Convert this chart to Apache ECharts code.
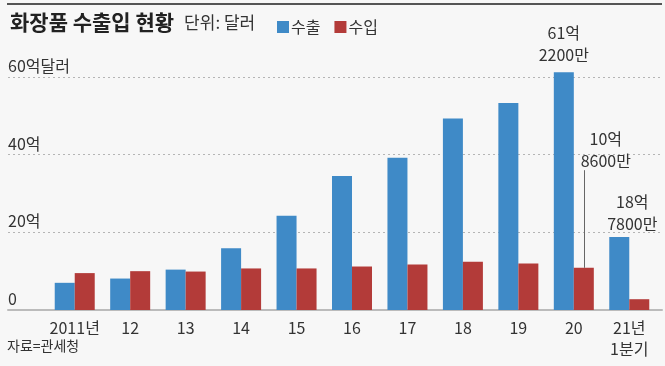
<!DOCTYPE html>
<html>
<head>
<meta charset="utf-8">
<script src="https://cdn.jsdelivr.net/npm/echarts@6/dist/echarts.min.js"></script>
<style>
  html, body { margin: 0; padding: 0; background: #f7f7f7; }
  #chart { width: 665px; height: 366px; }
</style>
</head>
<body>
<div id="chart"></div>
<script>
// 화장품 수출입 (단위: 억 달러)
var years = ['2011년', '12', '13', '14', '15', '16', '17', '18', '19', '20', '21년\n1분기'];
var exports = [7.0, 8.1, 10.4, 15.9, 24.3, 34.5, 39.2, 49.3, 53.3, 61.22, 18.78];
var imports = [9.5, 10.0, 9.9, 10.7, 10.7, 11.2, 11.7, 12.4, 12.0, 10.86, 2.78];
var yTicks = [0, 20, 40, 60];

var FONT = '"Noto Sans CJK KR", "Noto Sans", sans-serif';
var BLUE = '#3f8ac7';
var RED = '#b33b39';

var myChart = echarts.init(document.getElementById('chart'));

function yLabel(v) {
  if (v === 0) return '0';
  if (v === 60) return v + '억달러';
  return v + '억';
}

var labelStyle = {
  show: true,
  position: 'top',
  color: '#333',
  fontFamily: FONT,
  fontSize: 16,
  lineHeight: 22,
  align: 'center'
};

var exportData = exports.map(function (v, i) {
  if (i === 9) {
    return { value: v, label: Object.assign({}, labelStyle, { formatter: '61억\n2200만', distance: 6 }) };
  }
  if (i === 10) {
    return { value: v, label: Object.assign({}, labelStyle, { formatter: '18억\n7800만', distance: 2, offset: [13, 0] }) };
  }
  return v;
});

var importData = imports.map(function (v, i) {
  if (i === 9) {
    return { value: v, label: Object.assign({}, labelStyle, { formatter: '10억\n8600만', distance: 2, offset: [22, -94] }) };
  }
  return v;
});

var option = {
  backgroundColor: '#f7f7f7',
  animation: false,
  title: {
    left: 5,
    top: 7,
    text: '{a|화장품 수출입 현황}  {b|단위: 달러}',
    textStyle: {
      fontWeight: 'normal',
      rich: {
        a: { fontFamily: FONT, fontSize: 21, fontWeight: 'bold', color: '#222' },
        b: { fontFamily: FONT, fontSize: 17, fontWeight: 'normal', color: '#333' }
      }
    }
  },
  legend: {
    left: 272,
    top: 14,
    icon: 'rect',
    itemWidth: 12,
    itemHeight: 12,
    itemGap: 14,
    textStyle: { fontFamily: FONT, fontSize: 16, color: '#333', padding: [0, 0, 0, -3] },
    data: ['수출', '수입']
  },
  graphic: [
    {
      type: 'line',
      shape: { x1: 7, y1: 4, x2: 662, y2: 4 },
      style: { stroke: '#555', lineWidth: 2 }
    },
    {
      type: 'text',
      left: 7,
      top: 339,
      style: { text: '자료=관세청', fontFamily: FONT, fontSize: 14, fill: '#333' }
    }
  ],
  grid: [
    { left: 8, right: 3, top: 77, bottom: 56 },
    { left: 47, right: 8, top: 77, bottom: 56 }
  ],
  xAxis: [
    {
      gridIndex: 0,
      type: 'value',
      min: 0,
      max: 1,
      axisLine: { show: true, lineStyle: { color: '#bbb', width: 2 } },
      axisTick: { show: false },
      axisLabel: { show: false },
      splitLine: { show: false }
    },
    {
      gridIndex: 1,
      type: 'category',
      data: years,
      axisLine: { show: false },
      axisTick: { show: false },
      axisLabel: {
        interval: 0,
        color: '#333',
        fontFamily: FONT,
        fontSize: 16,
        lineHeight: 21,
        margin: 7,
        verticalAlign: 'top'
      }
    }
  ],
  yAxis: [
    {
      gridIndex: 0,
      type: 'value',
      min: 0,
      max: 60,
      interval: 20,
      axisLine: { show: false },
      axisTick: { show: false },
      axisLabel: {
        inside: true,
        margin: 0,
        verticalAlign: 'bottom',
        padding: [0, 0, 3, 0],
        color: '#333',
        fontFamily: FONT,
        fontSize: 16,
        formatter: yLabel
      },
      splitLine: { lineStyle: { color: '#b5b5b5', type: [2, 3], width: 1 } }
    },
    {
      gridIndex: 1,
      type: 'value',
      min: 0,
      max: 60,
      interval: 20,
      show: false,
      splitLine: { show: false }
    }
  ],
  series: [
    {
      name: '수출',
      type: 'bar',
      xAxisIndex: 1,
      yAxisIndex: 1,
      barWidth: 20,
      barGap: 0,
      clip: false,
      itemStyle: { color: BLUE },
      data: exportData
    },
    {
      name: '수입',
      type: 'bar',
      xAxisIndex: 1,
      yAxisIndex: 1,
      barWidth: 20,
      barGap: 0,
      clip: false,
      itemStyle: { color: RED },
      data: importData,
      markLine: {
        silent: true,
        symbol: 'none',
        label: { show: false },
        lineStyle: { color: '#666', width: 1, type: 'solid' },
        data: [
          [{ coord: [9, imports[9]] }, { coord: [9, 36] }]
        ]
      }
    }
  ]
};

myChart.setOption(option);
</script>
</body>
</html>
